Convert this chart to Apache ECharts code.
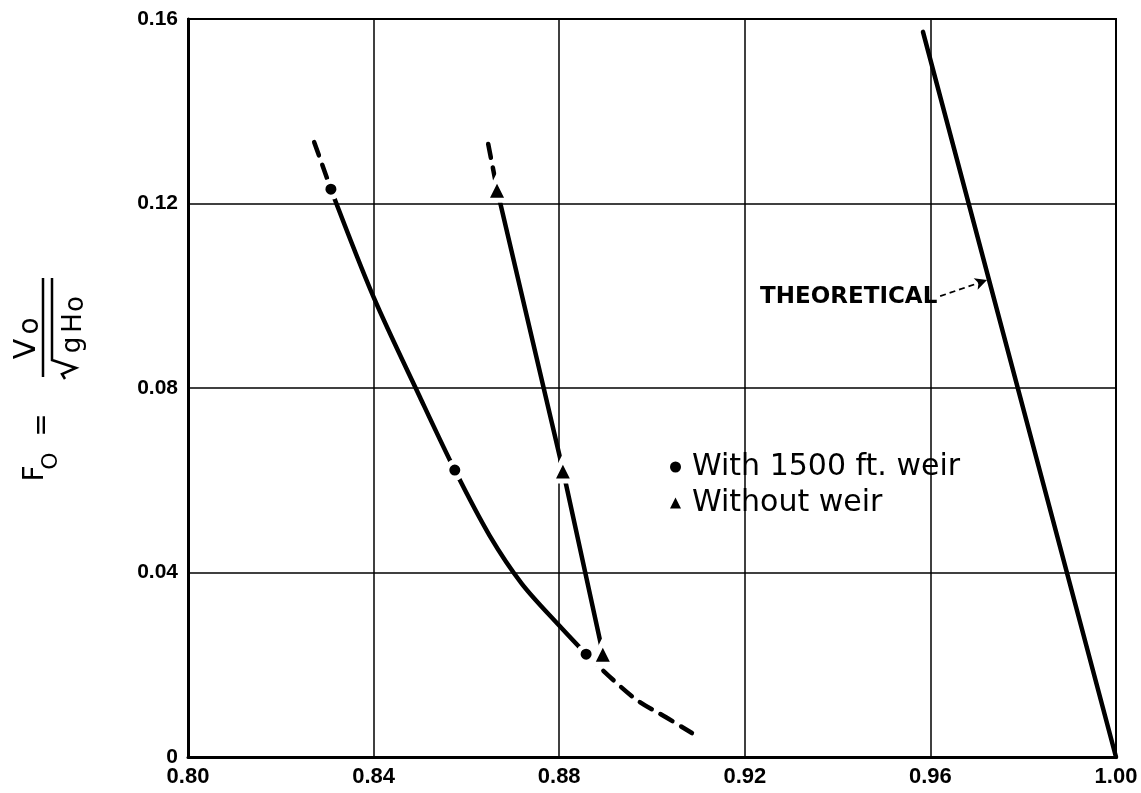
<!DOCTYPE html>
<html><head><meta charset="utf-8">
<script src="https://cdn.jsdelivr.net/npm/echarts@6/dist/echarts.min.js"></script>
<style>html,body{margin:0;padding:0;background:#fff}#c{width:1141px;height:793px}</style>
</head><body><div id="c"></div>
<script>
// ---- tick labels ----
const xTickLabels = ['0.80', '0.84', '0.88', '0.92', '0.96', '1.00'];
const yTickLabels = ['0', '0.04', '0.08', '0.12', '0.16'];

// ---- "With 1500 ft. weir" (circles) ----
const weirPoints = [[0.8308, 0.1231], [0.8575, 0.0622], [0.8858, 0.0223]];
const weirCurve = [[0.8308, 0.1231], [0.8400, 0.0997], [0.8500, 0.0780], [0.8575, 0.0622], [0.8650, 0.0480], [0.8720, 0.0375], [0.8800, 0.0285], [0.8858, 0.0223]];
const weirDashTop = [[0.8272, 0.1333], [0.8308, 0.1231]];
const weirDashTail = [[0.8858, 0.0223], [0.8959, 0.0130], [0.9032, 0.0085], [0.9086, 0.0052]];

// ---- "Without weir" (triangles) ----
const noWeirPoints = [[0.8666, 0.1231], [0.8808, 0.0622], [0.8894, 0.0225]];
const noWeirDashTop = [[0.8647, 0.1329], [0.8666, 0.1231]];

// ---- Theoretical ----
const theoretical = [[0.9584, 0.1572], [1.0, 0.0]];
const theoreticalLabel = 'THEORETICAL';
const arrowFrom = [0.9621, 0.0999];
const arrowTo = [0.9722, 0.1034];

const seriesNames = ['With 1500 ft. weir', 'Without weir'];

const FONT = 'DejaVu Sans';
const TICKFONT = 'Liberation Sans';
const chart = echarts.init(document.getElementById('c'), null, { renderer: 'canvas' });

function lineSeries(data, dashed, smooth) {
  return {
    type: 'line', data: data, showSymbol: false, symbol: 'none', smooth: smooth || false,
    silent: true, z: 3,
    lineStyle: { color: '#000', width: 4.5, type: dashed ? [14, 10] : 'solid', cap: 'round' }
  };
}

const titleGlyph = (t, lx, ly, size) => ({
  type: 'text', x: lx, y: ly,
  style: { text: t, fontSize: size, fontFamily: FONT, fill: '#000', align: 'center', verticalAlign: 'middle' }
});

chart.setOption({
  animation: false,
  backgroundColor: '#fff',
  grid: { left: 188, right: 25, top: 19, bottom: 36, show: true, borderColor: '#000', borderWidth: 2, containLabel: false, outerBoundsMode: 'none' },
  xAxis: {
    type: 'value', min: 0.80, max: 1.00, interval: 0.04,
    axisLine: { show: true, onZero: false, lineStyle: { color: '#000', width: 3 } },
    axisTick: { show: false },
    splitLine: { show: true, lineStyle: { color: '#000', width: 1.5 } },
    axisLabel: {
      margin: 9, fontSize: 22, fontWeight: 'bold', fontFamily: TICKFONT, color: '#000', hideOverlap: false,
      formatter: v => xTickLabels[Math.round((v - 0.80) / 0.04)]
    }
  },
  yAxis: {
    type: 'value', min: 0, max: 0.16, interval: 0.04,
    axisLine: { show: true, onZero: false, lineStyle: { color: '#000', width: 3 } },
    axisTick: { show: false },
    splitLine: { show: true, lineStyle: { color: '#000', width: 1.5 } },
    axisLabel: {
      margin: 10, fontSize: 21, fontWeight: 'bold', fontFamily: TICKFONT, color: '#000', hideOverlap: false,
      formatter: v => yTickLabels[Math.round(v / 0.04)]
    }
  },
  legend: {
    orient: 'vertical', left: 665, top: 447, itemGap: 6,
    itemWidth: 11, itemHeight: 11,
    itemStyle: { borderWidth: 0, color: '#000', opacity: 1 },
    textStyle: { fontSize: 30, fontFamily: FONT, color: '#000', padding: [0, 0, 0, 6] },
    data: [{ name: seriesNames[0], icon: 'circle' }, { name: seriesNames[1], icon: 'triangle' }]
  },
  series: [
    lineSeries(weirCurve, false, 0.3),
    lineSeries(weirDashTop, true),
    lineSeries(weirDashTail, true, 0.35),
    lineSeries(noWeirPoints, false),
    lineSeries(noWeirDashTop, true),
    Object.assign(lineSeries(theoretical, false), {
      markLine: {
        silent: true, symbol: ['none', 'arrow'], symbolSize: [9, 12], animation: false,
        lineStyle: { color: '#000', width: 1.8, type: [6, 4], opacity: 1 },
        label: { show: true, position: 'start', formatter: theoreticalLabel, fontSize: 23, fontWeight: 'bold', fontFamily: FONT, color: '#000', distance: 3 },
        data: [[{ coord: arrowFrom }, { coord: arrowTo }]]
      }
    }),
    {
      name: seriesNames[0], type: 'scatter', data: weirPoints, symbol: 'circle', symbolSize: 16, z: 5, silent: true,
      itemStyle: { color: '#000', borderColor: '#fff', borderWidth: 5, opacity: 1 }
    },
    {
      name: seriesNames[1], type: 'scatter', data: noWeirPoints, symbol: 'triangle', symbolSize: 22, z: 5, silent: true,
      itemStyle: { color: '#000', borderColor: '#fff', borderWidth: 5, opacity: 1 }
    }
  ],
  graphic: [{
    type: 'group', x: 45, y: 500, rotation: Math.PI / 2, silent: true,
    children: [
      titleGlyph('F', 26.5, -9.5, 28),
      titleGlyph('O', 39, 6.5, 22),
      titleGlyph('=', 75, -2, 28),
      { type: 'line', shape: { x1: 123, y1: -2, x2: 222, y2: -2 }, style: { stroke: '#000', lineWidth: 2.5 } },
      titleGlyph('V', 151, -17.5, 30),
      titleGlyph('o', 174, -14, 28),
      { type: 'polyline', shape: { points: [[121, 20], [126, 17], [132, 31], [140, 7], [222, 7]] }, style: { stroke: '#000', lineWidth: 2.5, fill: null } },
      titleGlyph('g', 155, 28, 26),
      titleGlyph('H', 177, 29.5, 26),
      titleGlyph('o', 196, 31, 26)
    ]
  }]
});
</script></body></html>
